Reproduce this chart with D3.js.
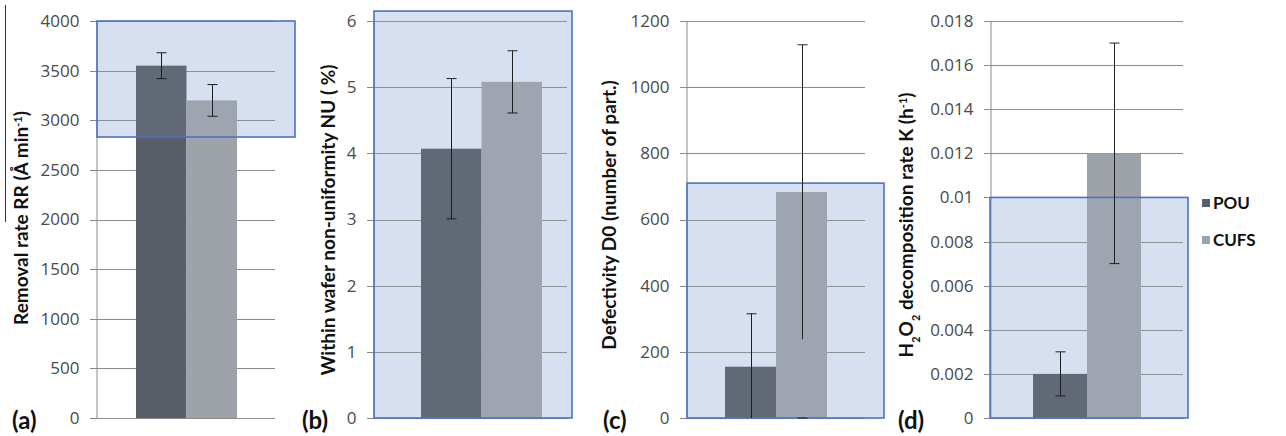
<!DOCTYPE html>
<html>
<head>
<meta charset="utf-8">
<script src="https://cdn.jsdelivr.net/npm/d3@7"></script>
<style>
  body { margin: 0; background: #fff; }
  svg { display: block; }
</style>
</head>
<body>
<svg id="chart"></svg>
<script>
// series and values
const series = ["POU", "CUFS"];

const rrValues = [3550, 3200];
const rrErrors = [130, 160];
const rrTicks = [0, 500, 1000, 1500, 2000, 2500, 3000, 3500, 4000];

const nuValues = [4.07, 5.08];
const nuErrors = [1.06, 0.47];
const nuTicks = [0, 1, 2, 3, 4, 5, 6];

const d0Values = [155, 683];
const d0Errors = [160, 445];
const d0Ticks = [0, 200, 400, 600, 800, 1000, 1200];

const kValues = [0.002, 0.012];
const kErrors = [0.001, 0.005];
const kTicks = [0, 0.002, 0.004, 0.006, 0.008, 0.01, 0.012, 0.014, 0.016, 0.018];

const colors = { POU: "#585e67", CUFS: "#9ea2a9" };

const width = 1286, height = 436;
const yTop = 21, yBottom = 418;

const svg = d3.select("#chart").attr("width", width).attr("height", height);

// stray scan line at far left of the figure
svg.append("line")
    .attr("x1", 5.5).attr("x2", 5.5).attr("y1", 5).attr("y2", 222)
    .style("stroke", "#333").style("stroke-width", 1);

const sup = (t, s) => t.append("tspan").attr("baseline-shift", "super").style("font-size", "11px").text(s);
const sub = (t, s) => t.append("tspan").attr("baseline-shift", "sub").style("font-size", "11px").text(s);

const panels = [
  { tag: "(a)", values: rrValues, errors: rrErrors, ticks: rrTicks, max: 4000,
    x0: 96, x1: 275, bars: [136, 237], labelX: 21, labelY: 218,
    label: t => { t.text("Removal rate RR (Å min"); sup(t, "-1"); t.append("tspan").text(")"); },
    box: { xa: 97, xb: 295, lo: 2831, hi: 4000 }, tagX: 12 },
  { tag: "(b)", values: nuValues, errors: nuErrors, ticks: nuTicks, max: 6,
    x0: 373, x1: 567, bars: [421, 542], labelX: 328, labelY: 220,
    label: t => t.text("Within wafer non-uniformity NU ( %)"),
    box: { xa: 374, xb: 572, lo: 0, hi: 6.15 }, tagX: 302 },
  { tag: "(c)", values: d0Values, errors: d0Errors, ticks: d0Ticks, max: 1200,
    x0: 686, x1: 865, bars: [725, 827], labelX: 609, labelY: 215,
    label: t => t.text("Defectivity D0 (number of part.)"),
    box: { xa: 687, xb: 884, lo: 0, hi: 710 }, tagX: 603 },
  { tag: "(d)", values: kValues, errors: kErrors, ticks: kTicks, max: 0.018,
    x0: 990, x1: 1183, bars: [1033, 1141], labelX: 906, labelY: 225,
    label: t => { t.text("H"); sub(t, "2"); t.append("tspan").text("O"); sub(t, "2");
                  t.append("tspan").text(" decomposition rate K (h"); sup(t, "-1"); t.append("tspan").text(")"); },
    box: { xa: 990, xb: 1188, lo: 0, hi: 0.01 }, tagX: 898 }
];

panels.forEach(p => {
  const y = d3.scaleLinear().domain([0, p.max]).range([yBottom, yTop]);
  const x = d3.scaleBand().domain(series).range(p.bars).padding(0);
  const g = svg.append("g");

  // highlight box fill (behind everything)
  g.append("rect")
      .attr("x", p.box.xa).attr("width", p.box.xb - p.box.xa)
      .attr("y", y(p.box.hi)).attr("height", y(p.box.lo) - y(p.box.hi))
      .style("fill", "#dde5f3");

  // gridlines
  g.append("g").selectAll("line").data(p.ticks).enter().append("line")
      .attr("x1", p.x0 - 6).attr("x2", p.x1)
      .attr("y1", d => Math.round(y(d)) + 0.5).attr("y2", d => Math.round(y(d)) + 0.5)
      .style("stroke", "#8a8a8a").style("stroke-width", 1);

  // y axis
  const axis = g.append("g")
      .attr("transform", `translate(${p.x0 + 0.5},0)`)
      .call(d3.axisLeft(y).tickValues(p.ticks).tickFormat(d => d).tickSize(0).tickPadding(17));
  axis.select(".domain").style("stroke", "#8a8a8a");
  axis.selectAll("text")
      .style("font-family", "'Open Sans', sans-serif")
      .style("font-size", "17px")
      .style("fill", "#4a4a4a");

  // bars
  g.append("g").selectAll("rect").data(series).enter().append("rect")
      .attr("x", d => x(d))
      .attr("width", x.bandwidth())
      .attr("y", (d, i) => y(p.values[i]))
      .attr("height", (d, i) => yBottom - y(p.values[i]))
      .style("fill", d => colors[d]);

  // highlight box outline
  g.append("rect")
      .attr("x", p.box.xa).attr("width", p.box.xb - p.box.xa)
      .attr("y", y(p.box.hi)).attr("height", y(p.box.lo) - y(p.box.hi))
      .style("fill", "rgba(170,192,230,0.12)")
      .style("stroke", "#4d72c4").style("stroke-width", 1.6);

  // error bars
  const eb = g.append("g").selectAll("g").data(series).enter().append("g")
      .style("stroke", "#1e1e1e").style("stroke-width", 1);
  const cx = d => Math.round(x(d) + x.bandwidth() / 2) + 0.5;
  const hiV = i => p.values[i] + p.errors[i];
  const loV = i => Math.max(0, p.values[i] - p.errors[i]);
  eb.append("line").attr("x1", cx).attr("x2", cx)
      .attr("y1", (d, i) => y(hiV(i))).attr("y2", (d, i) => y(loV(i)));
  eb.append("line").attr("x1", d => cx(d) - 5).attr("x2", d => cx(d) + 5)
      .attr("y1", (d, i) => y(hiV(i))).attr("y2", (d, i) => y(hiV(i)));
  eb.filter((d, i) => p.values[i] - p.errors[i] > 0)
    .append("line").attr("x1", d => cx(d) - 5).attr("x2", d => cx(d) + 5)
      .attr("y1", (d, i) => y(loV(i))).attr("y2", (d, i) => y(loV(i)));

  // y label
  const t = g.append("text")
      .attr("transform", `translate(${p.labelX},${p.labelY}) rotate(-90)`)
      .attr("text-anchor", "middle")
      .attr("dy", "0.35em")
      .style("font-family", "Lato, 'Open Sans', sans-serif")
      .style("font-weight", "bold")
      .style("font-size", "19px")
      .style("fill", "#111");
  p.label(t);

  // panel tag
  g.append("text")
      .attr("x", p.tagX).attr("y", 429)
      .style("font-family", "Lato, 'Open Sans', sans-serif")
      .style("font-weight", "bold")
      .style("font-size", "24px")
      .style("fill", "#111")
      .text(p.tag);
});

// legend
const legend = svg.append("g").selectAll("g").data(series).enter().append("g")
    .attr("transform", (d, i) => `translate(1202,${203 + i * 37})`);
legend.append("rect").attr("x", 0).attr("y", -4).attr("width", 8).attr("height", 8)
    .style("fill", d => colors[d]);
legend.append("text").attr("x", 11).attr("dy", "0.36em")
    .style("font-family", "Lato, 'Open Sans', sans-serif")
    .style("font-weight", "bold")
    .style("font-size", "17px")
    .style("fill", "#111")
    .text(d => d);
</script>
</body>
</html>
